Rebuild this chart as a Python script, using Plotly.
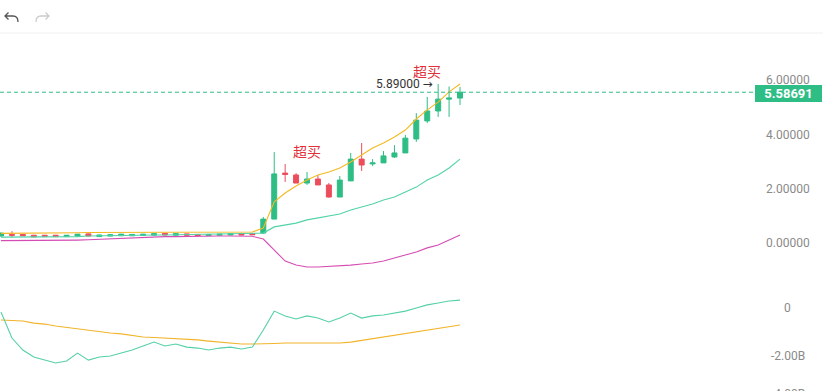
import plotly.graph_objects as go

# ---------------- data ----------------
idx = list(range(43))
opens = [0.24, 0.30, 0.30, 0.27, 0.27, 0.27, 0.22, 0.24, 0.32, 0.22, 0.24, 0.25, 0.25, 0.26, 0.27,
         0.34, 0.27, 0.32, 0.30, 0.26, 0.27, 0.28, 0.33, 0.33,
         0.35, 0.87, 2.58, 2.51, 2.21, 2.36, 2.14, 1.69, 2.29, 3.10, 2.92, 2.96, 3.18, 3.33, 3.85,
         4.52, 4.89, 5.33, 5.37]
highs = [0.37, 0.42, 0.32, 0.28, 0.28, 0.28, 0.28, 0.32, 0.33, 0.29, 0.30, 0.32, 0.31, 0.32, 0.34,
         0.35, 0.34, 0.33, 0.31, 0.31, 0.32, 0.34, 0.36, 0.34,
         0.95, 3.36, 2.92, 2.58, 2.62, 2.51, 2.21, 2.47, 3.33, 3.70, 3.10, 3.40, 3.62, 4.00, 4.81,
         5.41, 5.89, 5.80, 5.78]
lows = [0.22, 0.20, 0.24, 0.20, 0.21, 0.21, 0.21, 0.23, 0.23, 0.21, 0.23, 0.24, 0.24, 0.25, 0.26,
        0.27, 0.26, 0.26, 0.25, 0.25, 0.26, 0.27, 0.27, 0.28,
        0.32, 0.87, 2.25, 2.21, 2.14, 2.14, 1.67, 1.69, 2.29, 2.66, 2.84, 2.96, 3.14, 3.33, 3.74,
        4.44, 4.67, 4.67, 5.11]
closes = [0.35, 0.27, 0.25, 0.21, 0.22, 0.22, 0.27, 0.31, 0.24, 0.28, 0.29, 0.31, 0.30, 0.31, 0.33,
          0.28, 0.33, 0.27, 0.26, 0.30, 0.31, 0.33, 0.28, 0.29,
          0.87, 2.55, 2.53, 2.21, 2.36, 2.14, 1.69, 2.32, 3.10, 2.88, 2.96, 3.22, 3.33, 3.88, 4.55,
          4.89, 5.33, 5.37, 5.58691]

boll_up = [0.34, 0.34, 0.35, 0.35, 0.35, 0.36, 0.36, 0.36, 0.37, 0.37, 0.37, 0.38, 0.38, 0.38, 0.38,
           0.39, 0.39, 0.39, 0.39, 0.39, 0.39, 0.39, 0.39, 0.39,
           0.54, 1.51, 1.84, 2.10, 2.32, 2.51, 2.62, 2.77, 2.99, 3.25, 3.51, 3.70, 3.92, 4.18, 4.59,
           4.93, 5.22, 5.60, 5.89]
boll_mid = [0.20, 0.20, 0.20, 0.20, 0.21, 0.21, 0.22, 0.22, 0.24, 0.25, 0.25, 0.25, 0.26, 0.27, 0.28,
            0.28, 0.29, 0.29, 0.30, 0.31, 0.32, 0.33, 0.34, 0.35,
            0.35, 0.58, 0.65, 0.72, 0.84, 0.91, 0.99, 1.06, 1.21, 1.32, 1.43, 1.58, 1.69, 1.88, 2.06,
            2.32, 2.51, 2.77, 3.10]
boll_low = [0.07, 0.07, 0.07, 0.07, 0.07, 0.08, 0.09, 0.09, 0.10, 0.12, 0.14, 0.16, 0.18, 0.20, 0.21,
            0.22, 0.22, 0.23, 0.23, 0.24, 0.24, 0.24, 0.24, 0.23,
            0.13, -0.28, -0.69, -0.84, -0.91, -0.91, -0.89, -0.87, -0.84, -0.80, -0.76, -0.69, -0.58,
            -0.46, -0.35, -0.20, -0.09, 0.09, 0.28]

# lower indicator pane (billions)
ind_fast = [-0.17, -1.25, -1.75, -2.04, -2.17, -2.29, -2.21, -1.88, -2.17, -2.04, -2.00, -1.88, -1.75,
            -1.58, -1.42, -1.58, -1.50, -1.63, -1.67, -1.75, -1.67, -1.63, -1.71, -1.63,
            -0.92, -0.13, -0.33, -0.46, -0.33, -0.42, -0.58, -0.42, -0.21, -0.42, -0.33, -0.29, -0.21,
            -0.13, 0.00, 0.13, 0.21, 0.29, 0.33]
ind_slow = [-0.50, -0.52, -0.54, -0.63, -0.67, -0.75, -0.81, -0.88, -0.94, -1.00, -1.04, -1.08, -1.15,
            -1.21, -1.23, -1.25, -1.27, -1.29, -1.33, -1.38, -1.42, -1.46, -1.50, -1.50,
            -1.50, -1.48, -1.46, -1.46, -1.46, -1.46, -1.46, -1.46, -1.42, -1.35, -1.29, -1.21, -1.13,
            -1.06, -1.00, -0.92, -0.85, -0.79, -0.71]

main_ticks = [6, 4, 2, 0]
main_tick_text = ["6.00000", "4.00000", "2.00000", "0.00000"]
sub_ticks = [0, -2]
sub_tick_text = ["0", "-2.00B"]
sub_cut_text = "-4.00B"
last_price_text = "5.58691"
high_text = "5.89000 <span style='font-family:DejaVu Sans'>→</span>"
signal_text = "超买"
signal_idx = [28, 39]
signal_val = [3.40, 6.36]

# ---------------- style ----------------
W, H = 823, 391
PW = 755  # plot width in px
GREEN = "#2ebd85"
RED = "#ec4d5b"
YEL = "#f5b921"
TEAL = "#52d3a6"
PURP = "#d54db3"
LBL = "#8a8a8a"


def px(x):
    return x / PW


def py(y):
    return 1 - y / H


fig = go.Figure()
fig.add_trace(go.Candlestick(
    x=idx, open=opens, high=highs, low=lows, close=closes,
    increasing=dict(line=dict(color=GREEN, width=1), fillcolor=GREEN),
    decreasing=dict(line=dict(color=RED, width=1), fillcolor=RED),
    xaxis="x", yaxis="y", hoverinfo="skip"))
for vals, col in [(boll_up, YEL), (boll_mid, TEAL), (boll_low, PURP)]:
    fig.add_trace(go.Scatter(x=idx, y=vals, mode="lines", line=dict(color=col, width=1.1),
                             xaxis="x", yaxis="y", hoverinfo="skip"))
for vals, col in [(ind_slow, "#f2b42a"), (ind_fast, "#55d0a8")]:
    fig.add_trace(go.Scatter(x=idx, y=vals, mode="lines", line=dict(color=col, width=1.1),
                             xaxis="x2", yaxis="y2", hoverinfo="skip"))

main_dom = [py(290), py(36)]
sub_dom = [0, py(290)]
main_rng = [-1.766, 7.677]
sub_rng = [-3.458, 0.75]
xr = [-0.0915, 68.99]

ax_common = dict(showgrid=False, zeroline=False, showticklabels=False, showline=False, ticks="")
fig.update_layout(
    width=W, height=H, margin=dict(l=0, r=W - PW, t=0, b=0),
    paper_bgcolor="white", plot_bgcolor="white", showlegend=False,
    boxgap=0.35,
    xaxis=dict(domain=[0, 1], range=xr, anchor="y", rangeslider=dict(visible=False), **ax_common),
    yaxis=dict(domain=main_dom, range=main_rng, anchor="x", **ax_common),
    xaxis2=dict(domain=[0, 1], range=xr, anchor="y2", matches="x", **ax_common),
    yaxis2=dict(domain=sub_dom, range=sub_rng, anchor="x2", **ax_common),
    font=dict(family="Roboto, Arial, sans-serif"),
)

ann = []
for v, t in zip(main_ticks, main_tick_text):
    ann.append(dict(x=px(788), xref="paper", y=v, yref="y", text=t, showarrow=False,
                    xanchor="center", yanchor="middle", font=dict(size=12, color=LBL),
                    yshift=1 if v == 6 else 0))
for v, t in zip(sub_ticks, sub_tick_text):
    ann.append(dict(x=px(788), xref="paper", y=v, yref="y2", text=t, showarrow=False,
                    xanchor="center", yanchor="middle", font=dict(size=12, color=LBL)))
ann.append(dict(x=px(788), xref="paper", y=py(394), yref="paper", text=sub_cut_text, showarrow=False,
                xanchor="center", yanchor="middle", font=dict(size=12, color=LBL)))
# last price label
ann.append(dict(x=1.0, xref="paper", y=closes[-1], yref="y", text="<b>" + last_price_text + "</b>",
                showarrow=False, xanchor="left", yanchor="middle", bgcolor=GREEN,
                font=dict(size=13, color="white"), width=67, height=17, borderpad=0,
                borderwidth=0, align="center", yshift=-1))
# max high marker
hi_i = highs.index(max(highs))
ann.append(dict(x=idx[hi_i], xref="x", y=highs[hi_i], yref="y", text=high_text, showarrow=False,
                xanchor="right", yanchor="middle", xshift=-3, yshift=0,
                font=dict(size=12, color="#333333")))
for i, v in zip(signal_idx, signal_val):
    ann.append(dict(x=i, xref="x", y=v, yref="y", text=signal_text, showarrow=False,
                    xanchor="center", yanchor="middle",
                    font=dict(size=14, color="#e0303a", family="Noto Sans CJK SC")))
fig.update_layout(annotations=ann)

shapes = [
    dict(type="line", xref="paper", x0=0, x1=1, yref="y", y0=closes[-1], y1=closes[-1],
         line=dict(color=GREEN, width=1, dash="4px,3px")),
    dict(type="line", xref="paper", x0=0, x1=px(W), yref="paper", y0=py(33), y1=py(33),
         line=dict(color="#f0f0f0", width=1)),
    # undo icon
    dict(type="path", xref="paper", yref="paper",
         path=f"M {px(8.5)} {py(12.5)} L {px(5)} {py(16)} L {px(8.5)} {py(19.5)} "
              f"M {px(5)} {py(16)} L {px(13)} {py(16)} Q {px(18)} {py(16)} {px(18)} {py(22)}",
         line=dict(color="#555555", width=1.3)),
    # redo icon
    dict(type="path", xref="paper", yref="paper",
         path=f"M {px(45.5)} {py(12.5)} L {px(49)} {py(16)} L {px(45.5)} {py(19.5)} "
              f"M {px(49)} {py(16)} L {px(41)} {py(16)} Q {px(36)} {py(16)} {px(36)} {py(22)}",
         line=dict(color="#cccccc", width=1.3)),
]
fig.update_layout(shapes=shapes)

fig.write_html("out.html", config={"displayModeBar": False},
               post_script="document.body.style.margin='0';document.body.style.overflow='hidden';")
